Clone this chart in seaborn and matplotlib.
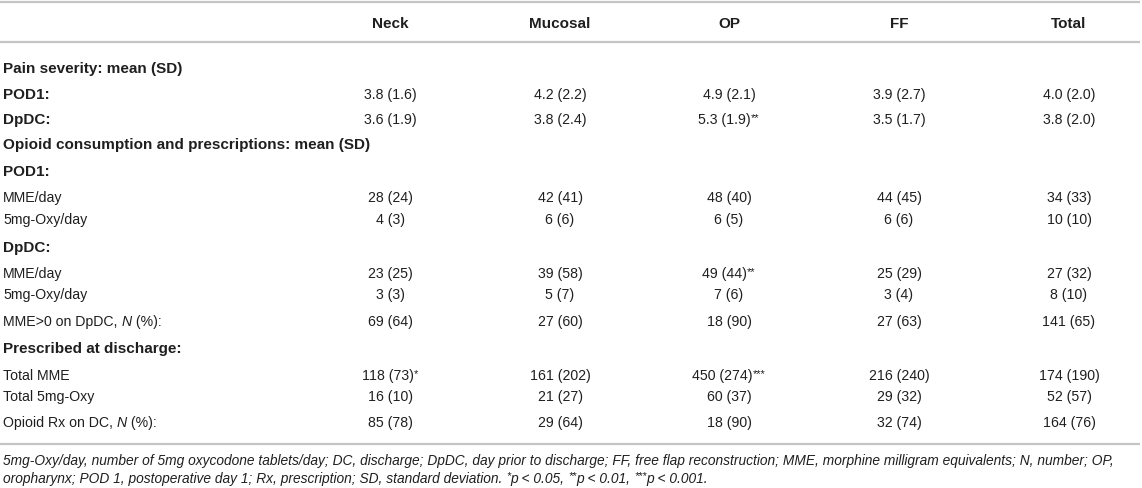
import matplotlib
matplotlib.use("Agg")
import matplotlib.pyplot as plt
import seaborn as sns
import pandas as pd

# ---------------- data ----------------
columns = ["Neck", "Mucosal", "OP", "FF", "Total"]

row_labels = [
    "Pain severity: mean (SD)",
    "POD1:",
    "DpDC:",
    "Opioid consumption and prescriptions: mean (SD)",
    "POD1:",
    "MME/day",
    "5mg-Oxy/day",
    "DpDC:",
    "MME/day",
    "5mg-Oxy/day",
    "MME>0 on DpDC, N (%):",
    "Prescribed at discharge:",
    "Total MME",
    "Total 5mg-Oxy",
    "Opioid Rx on DC, N (%):",
]

neck = ["", "3.8 (1.6)", "3.6 (1.9)", "", "", "28 (24)", "4 (3)", "",
        "23 (25)", "3 (3)", "69 (64)", "", "118 (73)", "16 (10)", "85 (78)"]
mucosal = ["", "4.2 (2.2)", "3.8 (2.4)", "", "", "42 (41)", "6 (6)", "",
           "39 (58)", "5 (7)", "27 (60)", "", "161 (202)", "21 (27)", "29 (64)"]
op = ["", "4.9 (2.1)", "5.3 (1.9)", "", "", "48 (40)", "6 (5)", "",
      "49 (44)", "7 (6)", "18 (90)", "", "450 (274)", "60 (37)", "18 (90)"]
ff = ["", "3.9 (2.7)", "3.5 (1.7)", "", "", "44 (45)", "6 (6)", "",
      "25 (29)", "3 (4)", "27 (63)", "", "216 (240)", "29 (32)", "32 (74)"]
total = ["", "4.0 (2.0)", "3.8 (2.0)", "", "", "34 (33)", "10 (10)", "",
         "27 (32)", "8 (10)", "141 (65)", "", "174 (190)", "52 (57)", "164 (76)"]

# significance markers (superscripts)
sig_neck = ["", "", "", "", "", "", "", "", "", "", "", "", "*", "", ""]
sig_mucosal = [""] * 15
sig_op = ["", "", "**", "", "", "", "", "", "**", "", "", "", "***", "", ""]
sig_ff = [""] * 15
sig_total = [""] * 15

footnote_1 = ("5mg-Oxy/day, number of 5mg oxycodone tablets/day; DC, discharge; DpDC, day prior to "
              "discharge; FF, free flap reconstruction; MME, morphine milligram equivalents; N, number; OP,")
footnote_2 = [("oropharynx; POD 1, postoperative day 1; Rx, prescription; SD, standard deviation. ", False),
              ("*", True), ("p < 0.05, ", False), ("**", True), ("p < 0.01, ", False),
              ("***", True), ("p < 0.001.", False)]

# ---------------- style / layout ----------------
bold_rows = {0, 1, 2, 3, 4, 7, 11}
row_y = [68, 94, 119, 144, 171, 197, 219, 247, 273, 294, 321, 348, 375, 396, 422]
col_x = [390, 560, 729, 899, 1069]
header_y = 23
rules_y = [3, 43, 445]
foot_y = [461, 478]

W, H = 1142, 489
TEXT = "#1f1f1f"
RULE = "#c4c4c4"
FS = 10.2      # regular
FSB = 11.0     # bold
FFS = 9.95     # footnote
SUP = 0.78
SUP_DY = -3.0
BASE = 5.0     # baseline offset from row centre (px)

sns.set_theme(style="white")
plt.rcParams["font.family"] = ["Liberation Sans", "DejaVu Sans"]

df = pd.DataFrame({"label": row_labels, "Neck": neck, "Mucosal": mucosal, "OP": op,
                   "FF": ff, "Total": total})
sig = pd.DataFrame({"Neck": sig_neck, "Mucosal": sig_mucosal, "OP": sig_op,
                    "FF": sig_ff, "Total": sig_total})

fig = plt.figure(figsize=(W / 100, H / 100), dpi=100)
fig.patch.set_facecolor("white")
ax = fig.add_axes([0, 0, 1, 1])
ax.set_xlim(0, W)
ax.set_ylim(H, 0)
ax.axis("off")
fig.canvas.draw()
renderer = fig.canvas.get_renderer()


def text_width(s, **kw):
    a = ax.text(0, 0, s + "|", **kw)
    b = ax.text(0, 0, "|", **kw)
    w = a.get_window_extent(renderer).width - b.get_window_extent(renderer).width
    a.remove()
    b.remove()
    return w


def draw_runs(x, yb, runs, ha="left"):
    widths = [text_width(t, **kw) for t, kw, _ in runs]
    tot = sum(widths)
    x0 = x - tot / 2 if ha == "center" else x
    for (t, kw, dy), w in zip(runs, widths):
        ax.text(x0, yb + dy, t, ha="left", va="baseline", color=TEXT, **kw)
        x0 += w


for y in rules_y:
    ax.plot([0, W - 2], [y, y], color=RULE, lw=1.6, solid_capstyle="butt")

for c, x in zip(columns, col_x):
    ax.text(x, header_y + BASE, c, ha="center", va="baseline", fontsize=FSB,
            fontweight="bold", color=TEXT)

reg = dict(fontsize=FS)
ita = dict(fontsize=FS, style="italic")
bld = dict(fontsize=FSB, fontweight="bold")
sup = dict(fontsize=FS * SUP)

for i, lab in enumerate(df["label"]):
    yb = row_y[i] + BASE
    if i in bold_rows:
        ax.text(3, yb, lab, ha="left", va="baseline", color=TEXT, **bld)
    elif ", N " in lab:
        pre, post = lab.split(", N ")
        draw_runs(3, yb, [(pre + ", ", reg, 0), ("N", ita, 0), (" " + post, reg, 0)])
    else:
        ax.text(3, yb, lab, ha="left", va="baseline", color=TEXT, **reg)

for c, x in zip(columns, col_x):
    for i, (v, s) in enumerate(zip(df[c], sig[c])):
        if not v:
            continue
        runs = [(v, reg, 0)]
        if s:
            runs.append((s, sup, SUP_DY))
        draw_runs(x, row_y[i] + BASE, runs, ha="center")

fita = dict(fontsize=FFS, style="italic")
fsup = dict(fontsize=FFS * SUP, style="italic")
ax.text(3, foot_y[0] + BASE - 0.5, footnote_1, ha="left", va="baseline", color=TEXT, **fita)
draw_runs(3, foot_y[1] + BASE - 0.5,
          [(t, fsup if s else fita, SUP_DY if s else 0) for t, s in footnote_2])

fig.savefig("out.png", dpi=100, facecolor="white")
